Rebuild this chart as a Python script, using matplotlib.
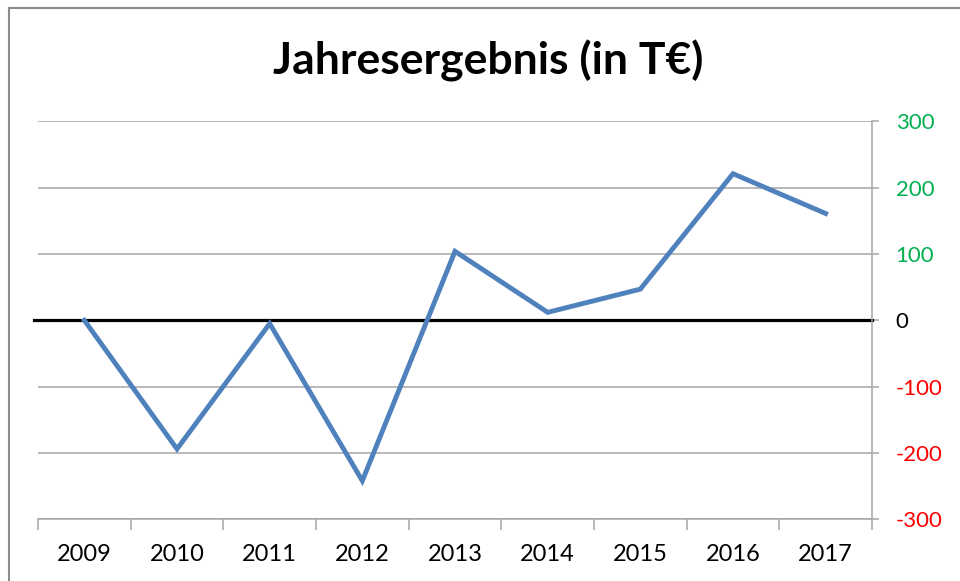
import matplotlib
matplotlib.use("Agg")
import matplotlib.pyplot as plt
from matplotlib.patches import Rectangle

years = ["2009", "2010", "2011", "2012", "2013", "2014", "2015", "2016", "2017"]
values = [0, -194, -5, -242, 104, 12, 47, 221, 161]
yticks = [-300, -200, -100, 0, 100, 200, 300]
title = "Jahresergebnis (in T€)"

plt.rcParams['font.family'] = ['Lato', 'DejaVu Sans']

fig = plt.figure(figsize=(9.6, 5.81), dpi=100)
fig.patch.set_facecolor("white")
# outer chart border (cropped on right/bottom)
fig.patches.append(Rectangle((9 / 960, -0.1), 2.0, 1 - 8 / 581 + 0.1,
                             transform=fig.transFigure, fill=False,
                             edgecolor="#8c8c8c", linewidth=1.5))

ax = fig.add_axes([38 / 960, 1 - 519.3 / 581, (872 - 38) / 960, (519.3 - 121.3) / 581])
x = list(range(len(years)))
ax.set_xlim(-0.5, len(years) - 0.5)
ax.set_ylim(-300, 300)

for v in yticks:
    if v == 0:
        continue
    ax.axhline(v, color="#a6a6a6", linewidth=1.1, zorder=1)
ax.axhline(0, color="black", linewidth=2.3, zorder=2, xmin=-4 / 834, clip_on=False)

ax.plot(x, values, color="#4F81BD", linewidth=3.5, zorder=3, solid_joinstyle="miter")

for s in ["left", "top"]:
    ax.spines[s].set_visible(False)
ax.spines["right"].set_color("#a6a6a6")
ax.spines["bottom"].set_color("#a6a6a6")
ax.spines["right"].set_linewidth(1.1)
ax.spines["bottom"].set_linewidth(1.1)

ax.yaxis.tick_right()
ax.set_yticks(yticks)
ax.set_yticklabels([str(v) for v in yticks])
ax.tick_params(axis="y", direction="out", length=5, width=1.1, color="#a6a6a6",
               pad=12, labelsize=16)
for lbl, v in zip(ax.get_yticklabels(), yticks):
    lbl.set_horizontalalignment("left")
    lbl.set_color("#00B050" if v > 0 else ("#FF0000" if v < 0 else "black"))

ax.set_xticks([i - 0.5 for i in range(len(years) + 1)])
ax.set_xticklabels([])
ax.set_xticks(x, minor=True)
ax.set_xticklabels(years, minor=True)
ax.tick_params(axis="x", which="major", direction="out", length=8, width=1.1, color="#a6a6a6")
ax.tick_params(axis="x", which="minor", length=0, pad=18, labelsize=17, labelcolor="black")

fig.text(488 / 960, 1 - 75 / 581, title, ha="center", va="baseline", fontsize=32,
         fontweight="bold", color="black")

fig.savefig("out.png", dpi=100, facecolor="white")
